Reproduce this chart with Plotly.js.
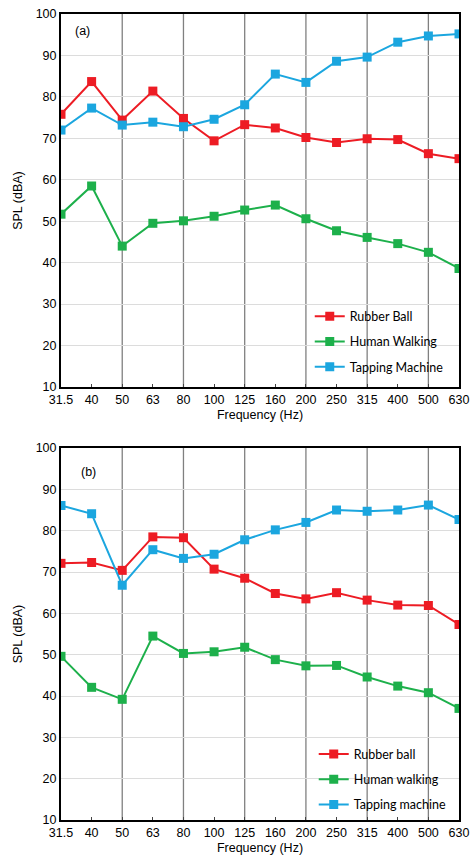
<!DOCTYPE html>
<html><head><meta charset="utf-8">
<script src="https://cdn.plot.ly/plotly-3.0.1.min.js"></script>
<style>html,body{margin:0;padding:0;background:#fff}#chart{width:471px;height:856px}</style>
</head><body><div id="chart"></div>
<script>
const freqs = ['31.5','40','50','63','80','100','125','160','200','250','315','400','500','630'];
const gridFreqs = ['50','80','125','200','315','500'];

// Panel (a)
const rubberA  = [75.8, 83.7, 74.4, 81.4, 74.8, 69.4, 73.3, 72.5, 70.2, 69.0, 69.9, 69.7, 66.3, 65.1];
const walkingA = [51.7, 58.5, 44.0, 49.5, 50.1, 51.2, 52.7, 53.9, 50.6, 47.7, 46.1, 44.6, 42.5, 38.6];
const tappingA = [72.0, 77.3, 73.2, 73.9, 72.8, 74.6, 78.1, 85.5, 83.5, 88.6, 89.6, 93.2, 94.7, 95.2];
const namesA = ['Rubber Ball', 'Human Walking', 'Tapping Machine'];

// Panel (b)
const rubberB  = [72.1, 72.3, 70.4, 78.5, 78.3, 70.7, 68.5, 64.8, 63.5, 65.0, 63.2, 62.0, 61.9, 57.3];
const walkingB = [49.6, 42.1, 39.2, 54.5, 50.3, 50.7, 51.8, 48.8, 47.3, 47.4, 44.6, 42.4, 40.8, 37.0];
const tappingB = [86.1, 84.1, 66.8, 75.4, 73.3, 74.3, 77.8, 80.2, 82.0, 85.0, 84.7, 85.0, 86.2, 82.7];
const namesB = ['Rubber ball', 'Human walking', 'Tapping machine'];

const colors = ['#ED1C24', '#1DB04B', '#1BA6DF'];

function tr(y, name, i, xa, ya, leg) {
  return {
    x: freqs, y: y, name: name, type: 'scatter', mode: 'lines+markers',
    xaxis: xa, yaxis: ya, legend: leg, legendgroup: leg + i,
    line: {color: colors[i], width: 2},
    marker: {symbol: 'square', size: 9, color: colors[i]}
  };
}

const data = [
  tr(rubberA, namesA[0], 0, 'x', 'y', 'legend'),
  tr(walkingA, namesA[1], 1, 'x', 'y', 'legend'),
  tr(tappingA, namesA[2], 2, 'x', 'y', 'legend'),
  tr(rubberB, namesB[0], 0, 'x2', 'y2', 'legend2'),
  tr(walkingB, namesB[1], 1, 'x2', 'y2', 'legend2'),
  tr(tappingB, namesB[2], 2, 'x2', 'y2', 'legend2')
];

const tickFont = {family: 'Liberation Sans, Arial, sans-serif', size: 12.5, color: '#000'};
function xax(anchor) {
  return {
    anchor: anchor, type: 'category', categoryorder: 'array', categoryarray: freqs,
    range: [0, 13], showgrid: false, zeroline: false,
    showline: true, linecolor: '#000', linewidth: 2, mirror: true,
    ticks: 'inside', ticklen: 3, tickcolor: '#444', tickfont: tickFont,
    title: {text: 'Frequency (Hz)', font: {family: 'Liberation Sans, Arial, sans-serif', size: 12.5, color: '#000'}, standoff: 4},
    fixedrange: true
  };
}
function yax(anchor, dom) {
  return {
    anchor: anchor, domain: dom, range: [10, 100], dtick: 10, tick0: 10,
    showgrid: true, gridcolor: '#DCDCDC', gridwidth: 1, zeroline: false,
    showline: true, linecolor: '#000', linewidth: 2, mirror: true,
    ticks: '', tickfont: tickFont,
    title: {text: 'SPL (dBA)', font: {family: 'Liberation Sans, Arial, sans-serif', size: 12.5, color: '#000'}, standoff: 10},
    fixedrange: true
  };
}

const shapes = [];
[['x','y'],['x2','y2']].forEach(([xa, ya]) => {
  gridFreqs.forEach(f => {
    const idx = freqs.indexOf(f);
    shapes.push({type: 'line', layer: 'below', xref: xa, yref: ya + ' domain',
      x0: idx, x1: idx, y0: 0, y1: 1, line: {color: '#808080', width: 1.3}});
  });
});

const legFont = {family: 'Lato, Open Sans, sans-serif', size: 12.5, color: '#000'};
const layout = {
  width: 471, height: 856,
  margin: {l: 61, r: 12, t: 14, b: 36},
  paper_bgcolor: '#fff', plot_bgcolor: '#fff',
  showlegend: true,
  xaxis: xax('y'),
  yaxis: yax('x', [0.5372, 1]),
  xaxis2: xax('y2'),
  yaxis2: yax('x2', [0, 0.4615]),
  legend: {x: 0.625, y: 0.643, xanchor: 'left', yanchor: 'top', bgcolor: 'rgba(0,0,0,0)',
    font: legFont, traceorder: 'grouped', tracegroupgap: 6, itemwidth: 30},
  legend2: {x: 0.635, y: 0.100, xanchor: 'left', yanchor: 'top', bgcolor: 'rgba(0,0,0,0)',
    font: legFont, traceorder: 'grouped', tracegroupgap: 6, itemwidth: 30},
  shapes: shapes,
  annotations: [
    {text: '(a)', xref: 'x domain', yref: 'y domain', x: 0.03, y: 0.955, xanchor: 'left', yanchor: 'middle',
      showarrow: false, font: {family: 'Liberation Sans, Arial, sans-serif', size: 12.5, color: '#000'}},
    {text: '(b)', xref: 'x2 domain', yref: 'y2 domain', x: 0.045, y: 0.935, xanchor: 'left', yanchor: 'middle',
      showarrow: false, font: {family: 'Liberation Sans, Arial, sans-serif', size: 12.5, color: '#000'}}
  ]
};

Plotly.newPlot('chart', data, layout, {displayModeBar: false, staticPlot: true});
</script>
</body></html>
